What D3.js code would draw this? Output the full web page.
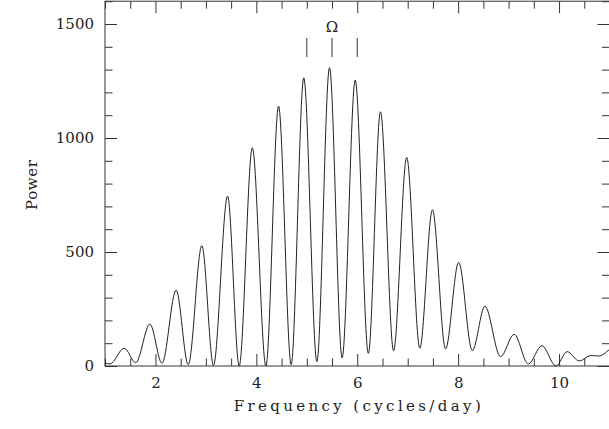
<!DOCTYPE html>
<html>
<head>
<meta charset="utf-8">
<script src="https://cdn.jsdelivr.net/npm/d3@7"></script>
<style>
  body { margin: 0; background: #fff; }
  svg { display: block; }
  text { font-family: "DejaVu Serif", serif; fill: #222; }
</style>
</head>
<body>
<div class="chartContainer"></div>
<script>
// peaks and troughs of the power spectrum
const freqs = [1.00, 1.10, 1.38, 1.61, 1.89, 2.13, 2.41, 2.65, 2.92, 3.15,
               3.43, 3.66, 3.92, 4.19, 4.44, 4.69, 4.94, 5.20, 5.45, 5.70,
               5.96, 6.22, 6.46, 6.72, 6.98, 7.24, 7.49, 7.75, 8.01, 8.28,
               8.53, 8.84, 9.11, 9.39, 9.66, 9.94, 10.16, 10.40, 10.63, 10.78, 11.00];
const power = [14, 9, 78, 15, 184, 12, 333, 6, 528, 3,
               745, 1, 957, 0, 1140, 6, 1264, 19, 1308, 36,
               1254, 55, 1115, 67, 915, 78, 685, 75, 455, 67,
               262, 41, 139, 9, 89, 0, 63, 22, 46, 44, 73];

const markerFreqs = [5.0, 5.5, 6.0];
const markerLabel = "Ω";

const xMajor = [2, 4, 6, 8, 10];
const yMajor = [0, 500, 1000, 1500];

window.addEventListener("load", () => drawSpectrum());

function drawSpectrum() {
  const width = 609, height = 429;
  const left = 105, right = 609.5, top = 1.2, bottom = 366;

  const x = d3.scaleLinear().domain([1, 11]).range([left, right]);
  const y = d3.scaleLinear().domain([0, 1600]).range([bottom, top]);

  const xMinor = d3.range(1, 11.01, 0.5).filter(v => !xMajor.includes(v));
  const yMinor = d3.range(0, 1601, 100).filter(v => !yMajor.includes(v));

  const svg = d3.select(".chartContainer")
    .append("svg")
    .attr("width", width)
    .attr("height", height);

  // frame
  svg.append("rect")
    .attr("x", left).attr("y", top)
    .attr("width", right - left).attr("height", bottom - top)
    .attr("fill", "none")
    .attr("stroke", "#333")
    .attr("stroke-width", 1);

  // ticks point inward on all four sides
  function addAxis(axis, tx, ty, labels) {
    const g = svg.append("g")
      .attr("transform", "translate(" + tx + "," + ty + ")")
      .call(axis);
    g.select(".domain").remove();
    g.selectAll("line").attr("stroke", "#333");
    if (!labels) g.selectAll("text").remove();
    else g.selectAll("text").style("font-size", "15px").attr("fill", "#222");
    return g;
  }

  addAxis(d3.axisBottom(x).tickValues(xMajor).tickSize(-12).tickPadding(11)
            .tickFormat(d3.format("d")), 0, bottom, true);
  addAxis(d3.axisBottom(x).tickValues(xMinor).tickSize(-7.5), 0, bottom, false);
  addAxis(d3.axisTop(x).tickValues(xMajor).tickSize(-12), 0, top, false);
  addAxis(d3.axisTop(x).tickValues(xMinor).tickSize(-7.5), 0, top, false);

  addAxis(d3.axisLeft(y).tickValues(yMajor).tickSize(-12).tickPadding(11)
            .tickFormat(d3.format("d")), left, 0, true);
  addAxis(d3.axisLeft(y).tickValues(yMinor).tickSize(-7.5), left, 0, false);
  addAxis(d3.axisRight(y).tickValues(yMajor).tickSize(-12), right, 0, false);
  addAxis(d3.axisRight(y).tickValues(yMinor).tickSize(-7.5), right, 0, false);

  // spectrum curve
  const line = d3.line()
    .x((d, i) => x(freqs[i]))
    .y(d => y(d))
    .curve(d3.curveMonotoneX);

  svg.append("path")
    .datum(power)
    .attr("d", line)
    .attr("fill", "none")
    .attr("stroke", "#222")
    .attr("stroke-width", 1);

  // markers at the central frequencies
  svg.selectAll(".marker")
    .data(markerFreqs)
    .enter()
    .append("line")
    .attr("class", "marker")
    .attr("x1", d => x(d)).attr("x2", d => x(d))
    .attr("y1", 38).attr("y2", 57)
    .attr("stroke", "#333")
    .attr("stroke-width", 1);

  svg.append("text")
    .attr("x", x(markerFreqs[1]))
    .attr("y", 32)
    .attr("text-anchor", "middle")
    .style("font-size", "15px")
    .text(markerLabel);

  // axis titles
  svg.append("text")
    .attr("x", (left + right) / 2)
    .attr("y", 411)
    .attr("text-anchor", "middle")
    .attr("textLength", 247)
    .attr("lengthAdjust", "spacing")
    .style("font-size", "15px")
    .text("Frequency (cycles/day)");

  svg.append("text")
    .attr("transform", "translate(37,185) rotate(-90)")
    .attr("text-anchor", "middle")
    .attr("textLength", 50)
    .attr("lengthAdjust", "spacing")
    .style("font-size", "15px")
    .text("Power");
}
</script>
</body>
</html>
